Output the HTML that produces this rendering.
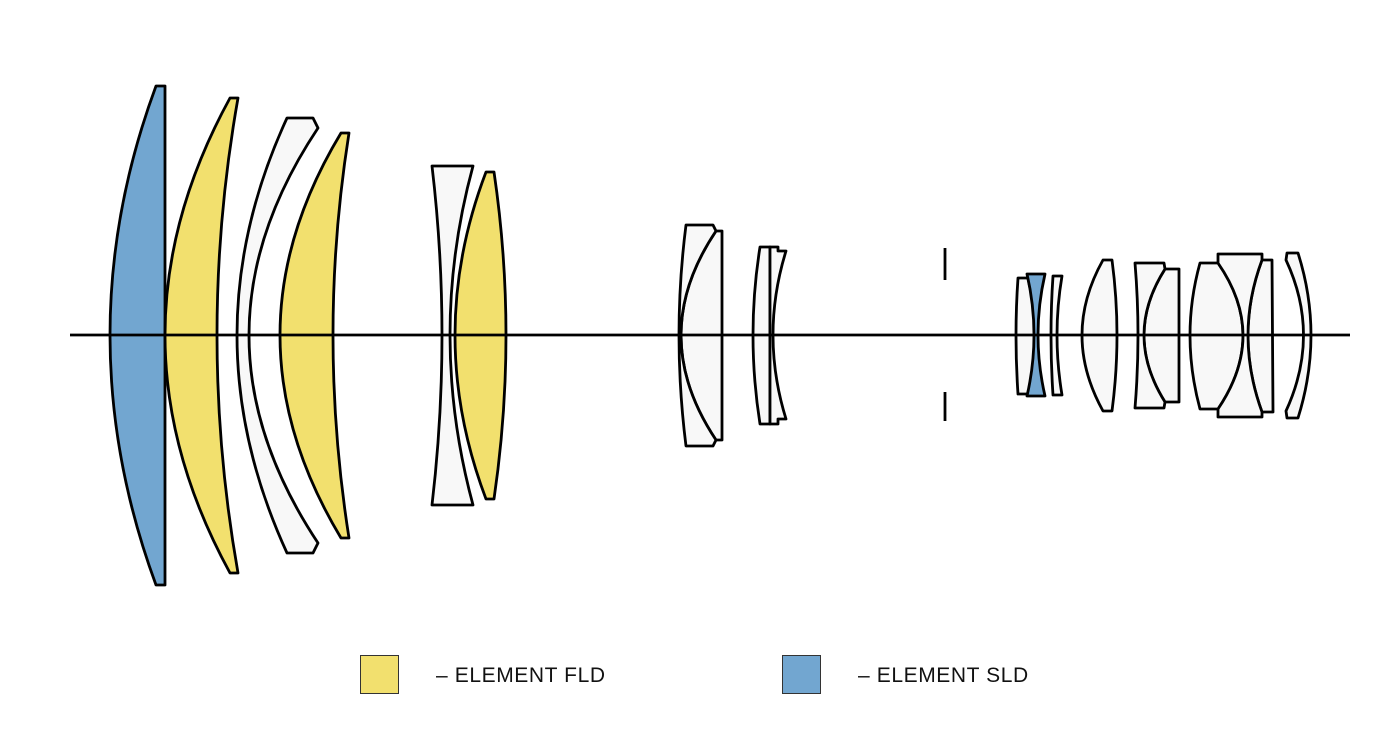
<!DOCTYPE html>
<html><head><meta charset="utf-8"><style>
html,body{margin:0;padding:0;background:#fff;width:1400px;height:750px;overflow:hidden}
svg{display:block}
text{font-family:"Liberation Sans",sans-serif;font-size:21px;fill:#111;letter-spacing:0.6px}
</style></head><body>
<svg width="1400" height="750" viewBox="0 0 1400 750" xmlns="http://www.w3.org/2000/svg">
<g stroke="#000" stroke-width="2.8" stroke-linejoin="round">
<path fill="#72a6d0" d="M156,86 L165,86 L165,585 L156,585 Q64,335 156,86 Z"/>
<path fill="#f2e06e" d="M230,98 L238,98 Q196,335 238,573 L230,573 Q100,335 230,98 Z"/>
<path fill="#f8f8f8" d="M287,118 L313,118 L318,128 Q180,335 318,543 L313,553 L287,553 Q187,335 287,118 Z"/>
<path fill="#f2e06e" d="M341,133 L349,133 Q317,335 349,538 L341,538 Q219,335 341,133 Z"/>
<path fill="#f8f8f8" d="M432,166 L473,166 Q427,335 473,505 L432,505 Q452,335 432,166 Z"/>
<path fill="#f2e06e" d="M486,172 L494,172 Q518,335 494,499 L486,499 Q424,335 486,172 Z"/>
<path fill="#f8f8f8" d="M716,231 L722,231 L722,440 L716,440 Q646,335 716,231 Z"/>
<path fill="#f8f8f8" d="M686,225 L713,225 L716,231 Q646,335 716,440 L713,446 L686,446 Q672,335 686,225 Z"/>
<path fill="#f8f8f8" d="M760,247 L770,247 L770,424 L760,424 Q746,335 760,247 Z"/>
<path fill="#f8f8f8" d="M770,247 L778,247 L778,251 L786,251 Q760,335 786,419 L778,419 L778,424 L770,424 Z"/>
<path fill="#f8f8f8" d="M1018,278 L1028,278 Q1041,335 1028,394 L1018,394 Q1014,335 1018,278 Z"/>
<path fill="#72a6d0" d="M1027,274 L1045,274 Q1031,335 1045,396 L1027,396 Q1041,335 1027,274 Z"/>
<path fill="#f8f8f8" d="M1053,276 L1062,276 Q1052,335 1062,395 L1053,395 Q1049,335 1053,276 Z"/>
<path fill="#f8f8f8" d="M1103,260 L1112,260 Q1122,335 1112,411 L1103,411 Q1061,335 1103,260 Z"/>
<path fill="#f8f8f8" d="M1165,269 L1179,269 L1179,402 L1165,402 Q1123,335 1165,269 Z"/>
<path fill="#f8f8f8" d="M1135,263 L1164,263 L1165,269 Q1123,335 1165,402 L1164,408 L1135,408 Q1141,335 1135,263 Z"/>
<path fill="#f8f8f8" d="M1200,263 L1218,263 Q1268,335 1218,409 L1200,409 Q1180,335 1200,263 Z"/>
<path fill="#f8f8f8" d="M1262,260 L1272,260 L1273,412 L1262,412 Q1234,335 1262,260 Z"/>
<path fill="#f8f8f8" d="M1218,254 L1262,254 L1262,260 Q1234,335 1262,412 L1262,417 L1218,417 L1218,409 Q1268,335 1218,263 Z"/>
<path fill="#f8f8f8" d="M1287,253 L1298,253 Q1324,335 1298,418 L1287,418 L1286,411 Q1321,335 1286,260 Z"/>
<line x1="945" y1="248" x2="945" y2="280"/>
<line x1="945" y1="392" x2="945" y2="421"/>
<line x1="70" y1="335" x2="1350" y2="335"/>
</g>
<rect x="360.5" y="655.5" width="38" height="38" fill="#f2e06e" stroke="#333" stroke-width="1"/>
<text x="436" y="682">– ELEMENT FLD</text>
<rect x="782.5" y="655.5" width="38" height="38" fill="#72a6d0" stroke="#333" stroke-width="1"/>
<text x="858" y="682">– ELEMENT SLD</text>
</svg>
</body></html>
